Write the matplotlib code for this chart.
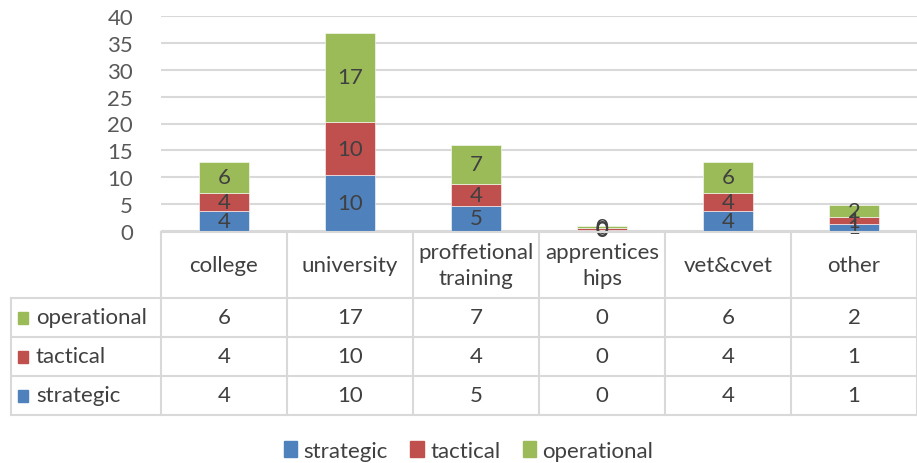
import matplotlib.pyplot as plt
from matplotlib.patches import Patch
from matplotlib.lines import Line2D
from matplotlib.transforms import blended_transform_factory
import numpy as np

plt.rcParams['font.family'] = ['Lato', 'DejaVu Sans']

categories = ['college', 'university', 'proffetional\ntraining', 'apprentices\nhips', 'vet&cvet', 'other']
series = ['strategic', 'tactical', 'operational']
strategic = [3.6, 10.3, 4.6, 0.2, 3.6, 1.2]
tactical = [3.5, 10.0, 4.2, 0.25, 3.5, 1.4]
operational = [5.8, 16.6, 7.2, 0.45, 5.8, 2.25]
colors = ['#4F81BD', '#C0504D', '#9BBB59']

W, H = 917, 464
fig = plt.figure(figsize=(W / 100, H / 100), dpi=100)
ax = fig.add_axes([160.8 / W, (H - 231.7) / H, (W - 160.8) / W, 214.4 / H])

x = np.arange(len(categories))
values = [strategic, tactical, operational]
bottom = np.zeros(len(categories))
for vals, c in zip(values, colors):
    bars = ax.bar(x, vals, 0.4, bottom=bottom, color=c, edgecolor='white', linewidth=0.4, zorder=3)
    ax.bar_label(bars, labels=['%.0f' % v for v in vals], label_type='center',
                 fontsize=16, color='#404040', zorder=4)
    bottom += np.array(vals)

ax.set_xlim(-0.5, len(categories) - 0.5)
ax.set_ylim(0, 40)
ax.set_yticks(range(0, 41, 5))
ax.tick_params(axis='y', length=0, labelsize=16, labelcolor='#595959', pad=20)
ax.set_xticks([])
ax.grid(axis='y', color='#D9D9D9', linewidth=1.5, zorder=0)
for s in ax.spines.values():
    s.set_visible(False)

# data table below the plot
line_kw = dict(color='#D9D9D9', linewidth=1.5)
tr = blended_transform_factory(ax.transData, fig.transFigure)
fy = lambda py: (H - py) / H
fx = lambda px: px / W
top_y, head_y = 233, 299
row_ys = [299, 338, 377, 416]
left_x = 10.5

fig.add_artist(Line2D([fx(160.8), 1], [fy(top_y)] * 2, **line_kw))
for yy in row_ys:
    fig.add_artist(Line2D([fx(left_x), 1], [fy(yy)] * 2, **line_kw))
fig.add_artist(Line2D([fx(left_x)] * 2, [fy(head_y), fy(416)], **line_kw))
for i in range(len(categories) + 1):
    fig.add_artist(Line2D([i - 0.5] * 2, [fy(top_y), fy(416)], transform=tr, **line_kw))

for i, cat in enumerate(categories):
    fig.text(i, fy((top_y + head_y) / 2), cat, transform=tr, ha='center', va='center',
             fontsize=16, color='#404040', linespacing=1.4)

rows = list(zip(series, values, colors))[::-1]
for r, (name, vals, c) in enumerate(rows):
    cy = fy((row_ys[r] + row_ys[r + 1]) / 2)
    fig.patches.append(plt.Rectangle((fx(18), cy - 6 / H), 10 / W, 12 / H,
                                     transform=fig.transFigure, color=c, figure=fig))
    fig.text(fx(36), cy, name, ha='left', va='center', fontsize=16, color='#404040')
    for i, v in enumerate(vals):
        fig.text(i, cy, '%.0f' % v, transform=tr, ha='center', va='center',
                 fontsize=16, color='#404040')

handles = [Patch(color=c, label=s) for s, c in zip(series, colors)]
fig.legend(handles=handles, loc='center', bbox_to_anchor=(0.511, fy(452)), ncol=3,
           frameon=False, fontsize=16, handlelength=0.6, handleheight=0.7,
           handletextpad=0.3, columnspacing=1.0, labelcolor='#404040')

fig.savefig('out.png', dpi=100)
